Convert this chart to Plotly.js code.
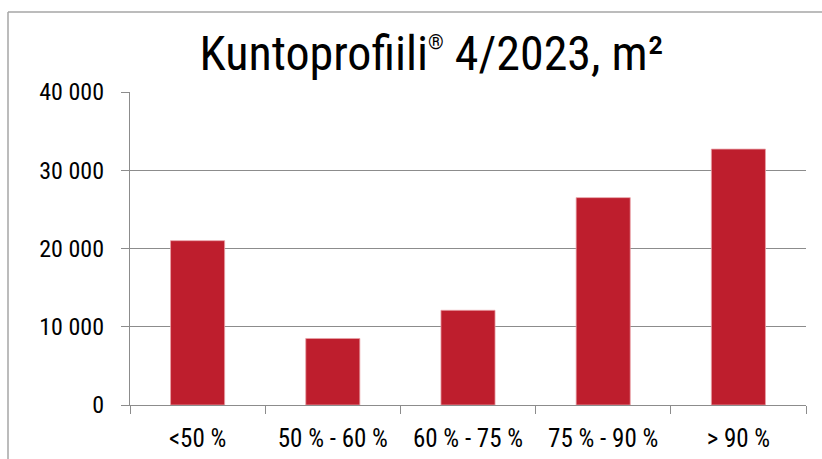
<!DOCTYPE html>
<html>
<head>
<meta charset="utf-8">
<script src="https://cdn.plot.ly/plotly-3.0.1.min.js"></script>
<style>
html,body{margin:0;padding:0;background:#fff;}
#chart{width:822px;height:459px;}
</style>
</head>
<body>
<div id="chart"></div>
<script>
const categories = ["<50 %", "50 % - 60 %", "60 % - 75 %", "75 % - 90 %", "> 90 %"];
const values = [21000, 8500, 12100, 26500, 32700];
const yTickVals = [0, 10000, 20000, 30000, 40000];
const yTickText = ["0", "10 000", "20 000", "30 000", "40 000"];

const FONT = '"Roboto Condensed", "Liberation Sans", sans-serif';

const trace = {
  type: 'bar',
  x: categories,
  y: values,
  marker: {color: '#be1e2d', line: {color: '#e8a0a6', width: 0.8}},
  hoverinfo: 'x+y'
};

const W = 822, H = 459;
const m = {l: 130, r: 16, t: 92, b: 54};
const pw = W - m.l - m.r, ph = H - m.t - m.b;
const fx = (8 - m.l) / pw;
const fy = 1 + (m.t - 12) / ph;

const layout = {
  width: W, height: H,
  margin: m,
  paper_bgcolor: '#fff',
  plot_bgcolor: '#fff',
  showlegend: false,
  bargap: 0.6,
  font: {family: FONT, color: '#000', size: 24},
  title: {
    text: 'Kuntoprofiili<sup><span style="font-size:20px">®</span></sup> 4/2023, m²',
    font: {family: FONT, size: 48, color: '#000'},
    x: 0.525, xanchor: 'center',
    y: 0.885, yanchor: 'middle'
  },
  xaxis: {
    type: 'category',
    showline: true, linecolor: '#8c8c8c', linewidth: 1.2,
    ticks: 'outside', tickson: 'boundaries', ticklen: 8, tickcolor: '#8c8c8c', tickwidth: 1,
    showgrid: false,
    tickfont: {family: FONT, size: 25, color: '#000'},
    ticklabelstandoff: 11
  },
  yaxis: {
    range: [0, 40000],
    tickvals: yTickVals, ticktext: yTickText,
    showline: true, linecolor: '#8c8c8c', linewidth: 1.2,
    ticks: 'outside', ticklen: 8, tickcolor: '#8c8c8c', tickwidth: 1,
    showgrid: true, gridcolor: '#8c8c8c', gridwidth: 1.2,
    zeroline: false,
    tickfont: {family: FONT, size: 24, color: '#000'},
    ticklabelstandoff: 12
  },
  shapes: [
    {type: 'line', xref: 'paper', yref: 'paper', x0: fx, x1: fx, y0: fy, y1: -1, line: {color: '#a6a6a6', width: 1.5}},
    {type: 'line', xref: 'paper', yref: 'paper', x0: fx, x1: 2, y0: fy, y1: fy, line: {color: '#a6a6a6', width: 1.5}}
  ]
};

Plotly.newPlot('chart', [trace], layout, {displayModeBar: false, staticPlot: true});
</script>
</body>
</html>
